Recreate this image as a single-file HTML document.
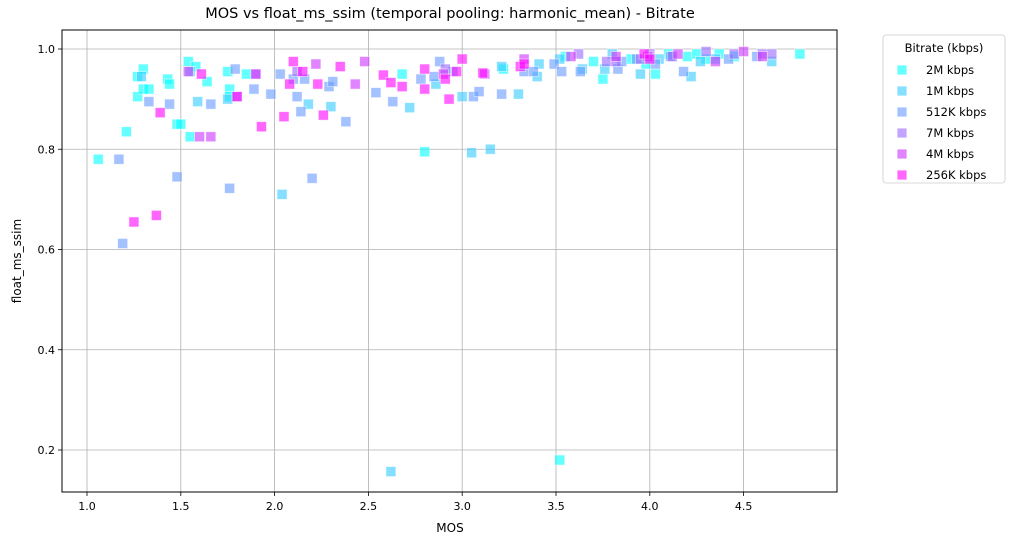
<!DOCTYPE html>
<html><head><meta charset="utf-8"><style>
body{margin:0;background:#fff;font-family:"Liberation Sans","DejaVu Sans",sans-serif}
</style></head><body>
<svg id="chart" width="1015" height="545" xmlns="http://www.w3.org/2000/svg" font-family="DejaVu Sans, Liberation Sans, sans-serif">
<text x="450" y="18" text-anchor="middle" font-size="14.5">MOS vs float_ms_ssim (temporal pooling: harmonic_mean) - Bitrate</text>
<g id="grid"></g><g id="pts"></g><g id="axes"></g>
<text x="450" y="532" text-anchor="middle" font-size="12">MOS</text>
<text transform="translate(21,261) rotate(-90)" text-anchor="middle" font-size="12">float_ms_ssim</text>
<g id="legend"></g>
</svg>
<script>
const xTicks=[1.0,1.5,2.0,2.5,3.0,3.5,4.0,4.5];
const yTicks=[0.2,0.4,0.6,0.8,1.0];
const seriesNames=["2M kbps","1M kbps","512K kbps","7M kbps","4M kbps","256K kbps"];
const seriesColors=["rgb(0,255,255)","rgb(51,204,255)","rgb(102,153,255)","rgb(153,102,255)","rgb(204,51,255)","rgb(255,0,255)"];
const s2M=[[1.06,0.78],[1.21,0.835],[1.27,0.945],[1.27,0.905],[1.30,0.96],[1.30,0.92],[1.33,0.92],[1.43,0.94],[1.44,0.93],[1.48,0.85],[1.50,0.85],[1.54,0.975],[1.55,0.825],[1.58,0.965],[1.64,0.935],[1.75,0.955],[1.76,0.92],[1.76,0.905],[1.85,0.95],[2.68,0.95],[2.80,0.795],[3.22,0.96],[3.52,0.18],[3.55,0.985],[3.75,0.94],[4.03,0.95],[4.8,0.99],[4.1,0.99],[4.2,0.985],[4.25,0.99],[4.3,0.98],[4.37,0.99],[4.45,0.985],[3.7,0.975],[3.9,0.98],[3.98,0.97]];
const s1M=[[1.29,0.945],[1.55,0.955],[1.59,0.895],[1.75,0.9],[2.18,0.89],[2.3,0.885],[2.04,0.71],[2.62,0.157],[2.72,0.883],[2.86,0.93],[3.0,0.905],[3.05,0.793],[3.15,0.8],[3.21,0.965],[3.3,0.91],[3.4,0.945],[3.41,0.97],[3.52,0.98],[3.64,0.96],[3.76,0.96],[3.8,0.99],[3.95,0.95],[4.05,0.98],[4.22,0.945],[4.35,0.98],[4.65,0.975],[4.27,0.975]];
const s512K=[[1.17,0.78],[1.19,0.612],[1.33,0.895],[1.44,0.89],[1.48,0.745],[1.66,0.89],[1.76,0.722],[1.79,0.96],[1.89,0.92],[1.98,0.91],[2.03,0.95],[2.1,0.94],[2.12,0.905],[2.14,0.875],[2.16,0.94],[2.2,0.742],[2.29,0.925],[2.31,0.935],[2.38,0.855],[2.54,0.913],[2.63,0.895],[2.78,0.94],[2.88,0.975],[2.85,0.945],[2.95,0.955],[3.06,0.905],[3.09,0.915],[3.21,0.91],[3.33,0.955],[3.38,0.955],[3.49,0.97],[3.53,0.955],[3.63,0.955],[3.83,0.96],[3.85,0.975],[3.93,0.98],[4.03,0.97],[4.11,0.985],[4.18,0.955],[4.42,0.98],[4.57,0.985]];
const s7M=[[1.8,0.905],[1.9,0.95],[2.12,0.955],[2.91,0.96],[3.62,0.99],[3.77,0.975],[3.82,0.975],[3.95,0.98],[4.0,0.99],[4.3,0.995],[4.45,0.99],[4.6,0.99],[4.65,0.99],[4.12,0.985]];
const s4M=[[1.54,0.955],[1.6,0.825],[1.66,0.825],[1.9,0.95],[2.22,0.97],[2.43,0.93],[2.48,0.975],[2.9,0.95],[3.12,0.95],[3.33,0.98],[3.58,0.985],[3.82,0.985],[3.99,0.985],[4.35,0.975],[4.5,0.995],[4.6,0.985],[4.15,0.99]];
const s256K=[[1.25,0.655],[1.37,0.668],[1.39,0.873],[1.61,0.95],[1.80,0.905],[1.93,0.845],[2.05,0.865],[2.08,0.93],[2.1,0.975],[2.15,0.955],[2.23,0.93],[2.26,0.868],[2.35,0.965],[2.58,0.948],[2.62,0.933],[2.68,0.925],[2.8,0.96],[2.8,0.92],[2.91,0.94],[2.93,0.9],[2.97,0.955],[3.0,0.98],[3.11,0.952],[3.31,0.965],[3.33,0.97],[3.97,0.99],[4.0,0.98]];
const allSeries=[s2M,s1M,s512K,s7M,s4M,s256K];

const L=62,R=837,T=30,B=492;
const xs=v=>87+(v-1)*187.6;
const ys=v=>49+(1-v)*501.25;
const NS="http://www.w3.org/2000/svg";
function mk(tag,attrs,parent,text){const e=document.createElementNS(NS,tag);for(const k in attrs)e.setAttribute(k,attrs[k]);if(text!==undefined)e.textContent=text;parent.appendChild(e);return e;}
const grid=document.getElementById('grid'),axes=document.getElementById('axes'),pts=document.getElementById('pts'),leg=document.getElementById('legend');
xTicks.forEach(t=>{const x=xs(t);
 const g=mk('line',{x1:x,x2:x,y1:T,y2:B,stroke:'#b0b0b0','stroke-width':0.8},grid);
 
 
 mk('line',{x1:x,x2:x,y1:B,y2:B+4,stroke:'#000','stroke-width':0.8},axes);
 const lb=mk('text',{x:x,y:B+18,'text-anchor':'middle','font-size':11},axes,t.toFixed(1));
 
 
});
yTicks.forEach(t=>{const y=ys(t);
 const g=mk('line',{x1:L,x2:R,y1:y,y2:y,stroke:'#b0b0b0','stroke-width':0.8},grid);
 
 
 mk('line',{x1:L-4,x2:L,y1:y,y2:y,stroke:'#000','stroke-width':0.8},axes);
 const lb=mk('text',{x:L-7,y:y+4,'text-anchor':'end','font-size':11},axes,t.toFixed(1));
 
 
});
const frame=mk('rect',{x:L,y:T,width:R-L,height:B-T,fill:'none',stroke:'#000','stroke-width':1},axes);


allSeries.forEach((s,i)=>{s.forEach(p=>{
 const r=mk('rect',{x:xs(p[0])-5,y:ys(p[1])-5,width:10,height:10,fill:seriesColors[i],'fill-opacity':0.6,stroke:'#fff','stroke-opacity':0.6,'stroke-width':0.8},pts);
 
 
});});
mk('rect',{x:883,y:35,width:122,height:148,rx:3,fill:'#fff',stroke:'#ccc','stroke-width':0.8},leg);
mk('text',{x:944,y:52,'text-anchor':'middle','font-size':11.5},leg,'Bitrate (kbps)');
seriesNames.forEach((n,i)=>{const y=70+i*21;
 const e=mk('g',{},leg);
 
 
 mk('rect',{x:897,y:y-5,width:10,height:10,fill:seriesColors[i],'fill-opacity':0.6,stroke:'#fff','stroke-width':0.8},e);
 mk('text',{x:926,y:y+4,'font-size':11.5},e,n);
});
</script>
</body></html>
